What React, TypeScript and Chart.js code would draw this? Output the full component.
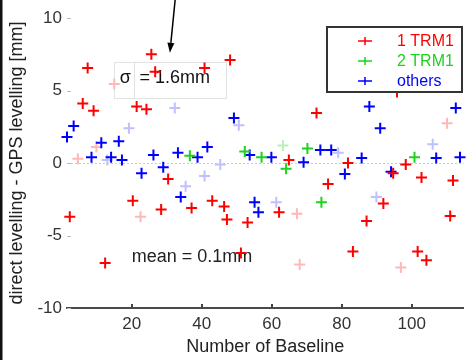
import React, { useEffect, useRef } from "react";
import { Chart, registerables } from "chart.js";

Chart.register(...registerables);

// ---------- data ----------
const seriesLabels = ["1 TRM1", "2 TRM1", "others"];
const xTickValues = [20, 40, 60, 80, 100];
const yTickValues = [-10, -5, 0, 5, 10];
const xAxisTitle = "Number of Baseline";
const yAxisTitle = "direct levelling - GPS levelling [mm]";
const sigmaSymbol = "σ";
const sigmaValue = "= 1.6mm";
const meanText = "mean = 0.1mm";

// 1 TRM1 (red)
const trm1Baseline = [2.3, 7.4, 6.0, 9.1, 12.4, 25.6, 26.7, 21.4, 24.2, 20.3, 28.4, 30.4, 37.1, 48.1, 40.8, 43.0, 46.4, 47.2, 53.1, 51.2, 62.1, 64.9, 72.8, 81.8, 76.1, 94.7, 98.3, 102.8, 111.8, 91.9, 87.1, 111.0, 83.2, 101.7, 104.2, 95.8];
const trm1Diff = [-3.7, 6.55, 4.1, 3.6, -6.9, 7.5, 6.3, 3.9, 3.7, -2.6, -3.2, -1.1, -3.1, 7.1, 6.55, -2.6, -3.0, -3.9, -4.1, -6.2, -3.4, 0.2, 3.45, 0.0, -1.45, -0.7, -0.1, -1.0, -1.2, -2.8, -4.0, -3.65, -6.1, -6.1, -6.7, 4.9];
// 1 TRM1, pale marks
const trm1PaleBaseline = [15.0, 4.6, 9.9, 22.5, 67.2, 68.0, 96.9, 110.1];
const trm1PaleDiff = [5.45, 0.3, 1.1, -3.7, -3.5, -7.0, -7.2, 2.75];

// 2 TRM1 (green)
const trm2Baseline = [36.6, 52.3, 57.1, 64.1, 70.2, 74.2, 100.8];
const trm2Diff = [0.5, 0.8, 0.4, -0.4, 1.0, -2.7, 0.4];
const trm2PaleBaseline = [63.2];
const trm2PaleDiff = [1.2];

// others (blue)
const otherBaseline = [3.4, 1.5, 8.5, 11.3, 16.3, 14.1, 17.2, 26.2, 33.2, 22.8, 29.0, 34.0, 38.8, 41.6, 49.2, 53.7, 59.9, 69.1, 73.9, 77.0, 55.1, 56.2, 80.9, 85.7, 94.1, 87.9, 91.0, 112.6, 107.0, 113.8];
const otherDiff = [2.55, 1.8, 0.4, 1.4, 1.5, 0.4, 0.2, 0.55, 0.7, -0.7, -0.3, -2.35, 0.4, 1.1, 3.1, 0.55, 0.4, 0.05, 0.9, 0.9, -2.7, -3.4, -0.75, 0.35, -0.6, 3.9, 2.4, 3.8, 0.35, 0.4];
const otherPaleBaseline = [32.3, 19.2, 35.4, 40.8, 45.3, 61.3, 106.0, 79.0, 89.9, 50.6, 13.0];
const otherPaleDiff = [3.8, 2.4, -1.6, -0.9, -0.1, -2.7, 1.3, 0.7, -2.35, 2.6, 0.2];

// annotation anchors (data units)
const arrowFrom = { x: 32.4, y: 11.25 };
const arrowTo = { x: 30.9, y: 7.6 };

const RED = "#ff0000";
const GREEN = "#1ed21e";
const BLUE = "#0000ff";
const RED_PALE = "#ffb8b8";
const GREEN_PALE = "#b8f0b8";
const BLUE_PALE = "#c0c0ff";
const FONT = "'Liberation Sans', Arial, sans-serif";

const toPoints = (xs: number[], ys: number[]) => xs.map((x, i) => ({ x, y: ys[i] }));

const makeSet = (label: string, xs: number[], ys: number[], color: string, inLegend: boolean) => ({
  label,
  data: toPoints(xs, ys),
  pointStyle: "cross",
  pointRadius: 5.5,
  pointBorderWidth: 2,
  borderColor: color,
  backgroundColor: color,
  pointBorderColor: color,
  showLine: false,
  clip: false,
  inLegend,
});

const annotationPlugin = {
  id: "refAnnotations",
  beforeDatasetsDraw(chart: any) {
    const { ctx, chartArea, scales } = chart;
    const x = scales.x;
    const y = scales.y;
    ctx.save();
    // zero reference line
    ctx.strokeStyle = "rgba(90,90,255,0.35)";
    ctx.lineWidth = 1;
    ctx.setLineDash([2, 2]);
    const y0 = Math.round(y.getPixelForValue(0)) + 0.5;
    ctx.beginPath();
    ctx.moveTo(chartArea.left, y0);
    ctx.lineTo(chartArea.right, y0);
    ctx.stroke();
    ctx.setLineDash([]);

    // sigma text box
    const bx0 = x.getPixelForValue(15.0);
    const bx1 = x.getPixelForValue(47.0);
    const by0 = y.getPixelForValue(7.0);
    const by1 = y.getPixelForValue(4.5);
    ctx.strokeStyle = "#e2e2e2";
    ctx.lineWidth = 1;
    ctx.strokeRect(Math.round(bx0) + 0.5, Math.round(by0) + 0.5, Math.round(bx1 - bx0), Math.round(by1 - by0));
    const divX = Math.round(x.getPixelForValue(20.6)) + 0.5;
    ctx.beginPath();
    ctx.moveTo(divX, by0);
    ctx.lineTo(divX, by1);
    ctx.stroke();
    ctx.fillStyle = "#111";
    ctx.font = `18px ${FONT}`;
    ctx.textBaseline = "alphabetic";
    ctx.textAlign = "left";
    ctx.fillText(sigmaSymbol, x.getPixelForValue(16.6), y.getPixelForValue(5.5));
    ctx.fillText(sigmaValue, x.getPixelForValue(22.2), y.getPixelForValue(5.5));

    // mean text
    ctx.fillStyle = "#222";
    ctx.fillText(meanText, x.getPixelForValue(20.0), y.getPixelForValue(-6.8));

    // inward ticks
    ctx.strokeStyle = "#444";
    ctx.lineWidth = 2;
    for (const v of xTickValues) {
      const px = Math.round(x.getPixelForValue(v));
      ctx.beginPath();
      ctx.moveTo(px, chartArea.bottom);
      ctx.lineTo(px, chartArea.bottom - 4);
      ctx.stroke();
    }
    ctx.strokeStyle = "#bbb";
    ctx.lineWidth = 1;
    for (const v of yTickValues) {
      const py = Math.round(y.getPixelForValue(v)) + 0.5;
      ctx.beginPath();
      ctx.moveTo(chartArea.left, py);
      ctx.lineTo(chartArea.left + 4, py);
      ctx.stroke();
    }
    ctx.restore();
  },
  afterDraw(chart: any) {
    const { ctx, scales } = chart;
    const x = scales.x;
    const y = scales.y;
    ctx.save();
    // legend
    const lx0 = 327, ly0 = 27, lx1 = 462, ly1 = 92;
    ctx.fillStyle = "#fff";
    ctx.fillRect(lx0, ly0, lx1 - lx0, ly1 - ly0);
    ctx.strokeStyle = "#333";
    ctx.lineWidth = 2;
    ctx.strokeRect(lx0, ly0, lx1 - lx0, ly1 - ly0);
    const entries = chart.data.datasets.filter((d: any) => d.inLegend);
    ctx.font = `16px ${FONT}`;
    ctx.textBaseline = "middle";
    ctx.textAlign = "left";
    entries.forEach((d: any, i: number) => {
      const ry = 41 + i * 20;
      ctx.strokeStyle = d.borderColor;
      ctx.lineWidth = 1.5;
      ctx.beginPath();
      ctx.moveTo(358, ry);
      ctx.lineTo(372, ry);
      ctx.moveTo(365, ry - 4);
      ctx.lineTo(365, ry + 4);
      ctx.stroke();
      ctx.fillStyle = d.borderColor;
      ctx.fillText(d.label, 397, ry + 1);
    });

    // arrow
    const ax0 = x.getPixelForValue(arrowFrom.x);
    const ay0 = y.getPixelForValue(arrowFrom.y);
    const ax1 = x.getPixelForValue(arrowTo.x);
    const ay1 = y.getPixelForValue(arrowTo.y);
    const ang = Math.atan2(ay1 - ay0, ax1 - ax0);
    const headLen = 10;
    const hx = ax1 - headLen * Math.cos(ang);
    const hy = ay1 - headLen * Math.sin(ang);
    ctx.strokeStyle = "#000";
    ctx.fillStyle = "#000";
    ctx.lineWidth = 1.5;
    ctx.beginPath();
    ctx.moveTo(ax0, ay0);
    ctx.lineTo(hx, hy);
    ctx.stroke();
    ctx.beginPath();
    ctx.moveTo(ax1, ay1);
    ctx.lineTo(hx + 3.5 * Math.sin(ang), hy - 3.5 * Math.cos(ang));
    ctx.lineTo(hx - 3.5 * Math.sin(ang), hy + 3.5 * Math.cos(ang));
    ctx.closePath();
    ctx.fill();

    // dark left edge
    ctx.fillStyle = "#111";
    ctx.fillRect(0, 0, 2.5, chart.height);
    ctx.restore();
  },
};

export default function App() {
  const canvasRef = useRef<HTMLCanvasElement | null>(null);

  useEffect(() => {
    if (!canvasRef.current) return;
    const chart = new Chart(canvasRef.current, {
      type: "scatter",
      data: {
        datasets: [
          makeSet(seriesLabels[0], trm1Baseline, trm1Diff, RED, true),
          makeSet(seriesLabels[1], trm2Baseline, trm2Diff, GREEN, true),
          makeSet(seriesLabels[2], otherBaseline, otherDiff, BLUE, true),
          makeSet(seriesLabels[0] + " ", trm1PaleBaseline, trm1PaleDiff, RED_PALE, false),
          makeSet(seriesLabels[1] + " ", trm2PaleBaseline, trm2PaleDiff, GREEN_PALE, false),
          makeSet(seriesLabels[2] + " ", otherPaleBaseline, otherPaleDiff, BLUE_PALE, false),
        ] as any,
      },
      options: {
        animation: false,
        responsive: false,
        layout: { padding: { top: 18, right: 0, bottom: 0, left: 0 } },
        plugins: { legend: { display: false }, tooltip: { enabled: false } },
        scales: {
          x: {
            type: "linear",
            min: 1.5,
            max: 114.8,
            grid: { display: false, drawTicks: false },
            border: { display: true, color: "#4a4a4a", width: 2 },
            afterBuildTicks: (s: any) => {
              s.ticks = xTickValues.map((v) => ({ value: v }));
            },
            afterFit: (s: any) => {
              s.height = 52;
            },
            ticks: { color: "#333", font: { size: 17, family: FONT }, padding: 6, maxRotation: 0 },
            title: {
              display: true,
              text: xAxisTitle,
              color: "#222",
              font: { size: 18, family: FONT },
              padding: { top: 0, bottom: 2 },
            },
          },
          y: {
            type: "linear",
            min: -10,
            max: 10,
            grid: { display: false, drawTicks: false },
            border: { display: false },
            afterBuildTicks: (s: any) => {
              s.ticks = yTickValues.map((v) => ({ value: v }));
            },
            afterFit: (s: any) => {
              s.width = 67;
            },
            ticks: { color: "#333", font: { size: 17, family: FONT }, padding: 5 },
            title: {
              display: true,
              text: yAxisTitle,
              color: "#222",
              font: { size: 18, family: FONT },
              padding: { top: 6, bottom: 0 },
            },
          },
        },
      },
      plugins: [annotationPlugin],
    });
    return () => chart.destroy();
  }, []);

  return (
    <div style={{ position: "absolute", left: 0, top: 0, width: 471, height: 360, background: "#fff" }}>
      <canvas ref={canvasRef} width={471} height={360} style={{ width: 471, height: 360, display: "block" }} />
    </div>
  );
}
